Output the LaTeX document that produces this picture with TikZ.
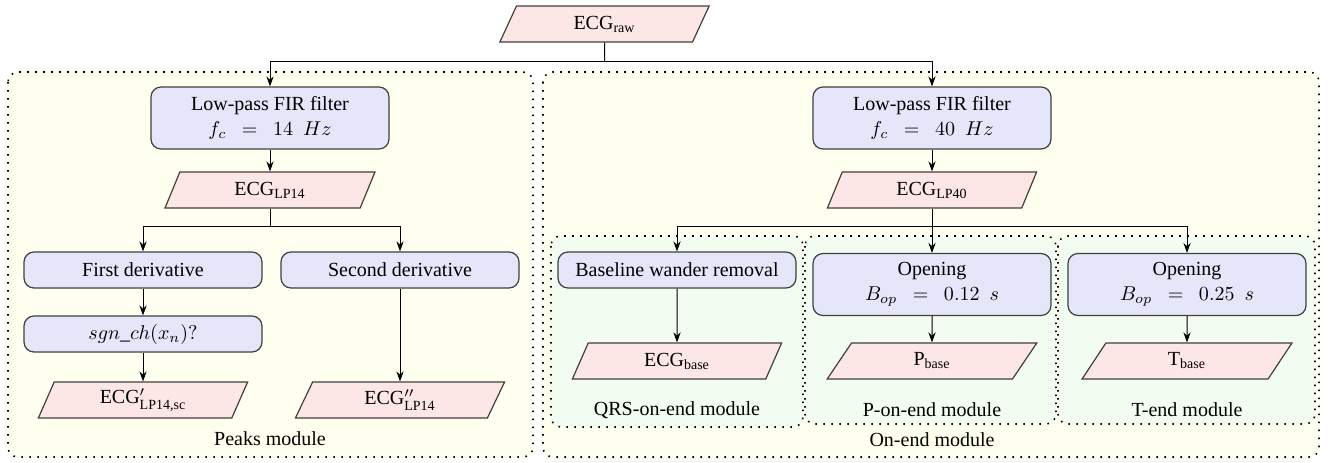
\documentclass[tikz,border=0pt]{standalone}
\usepackage{amsmath}
\usepackage[no-math]{fontspec}
\setmainfont{Liberation Serif}
\newfontfamily\diagfont{Liberation Serif}
\usetikzlibrary{shapes.geometric,arrows.meta,backgrounds}
\definecolor{boxfill}{HTML}{E6E6FA}
\definecolor{parafill}{HTML}{FDE6E6}
\definecolor{modfill}{HTML}{FFFFF0}
\definecolor{subfill}{HTML}{F3FCF1}
\definecolor{edge}{HTML}{404040}
\tikzset{
  procbox/.style={rectangle, rounded corners=5pt, draw=edge, fill=boxfill, line width=0.6pt,
    minimum width=119pt, minimum height=18pt, align=center, inner sep=2pt},
  procbox2/.style={procbox, minimum height=31pt},
  databox/.style={trapezium, trapezium left angle=73, trapezium right angle=107,
    trapezium stretches=true, draw=edge, fill=parafill, line width=0.6pt,
    minimum width=105pt, minimum height=18pt, inner sep=1pt},
  modbox/.style={draw=black, fill=modfill, rounded corners=5pt, line width=0.8pt,
    dash pattern=on 0.8pt off 3.2pt},
  subbox/.style={draw=black, fill=subfill, rounded corners=5pt, line width=0.8pt,
    dash pattern=on 0.8pt off 3.2pt},
  conn/.style={draw=black, line width=0.5pt},
  arr/.style={conn, -{Stealth[length=5pt,width=3.6pt]}},
  lbl/.style={inner sep=0pt}
}
\begin{document}
\begin{tikzpicture}[x=0.5pt,y=-0.5pt,font=\diagfont\fontsize{10}{12.5}\selectfont]
\useasboundingbox (0,0) rectangle (1330,462);
% module frames
\path[modbox] (8,72) rectangle (533,457);
\path[modbox] (543,72) rectangle (1319,457);
\path[subbox] (551,236) rectangle (803,427);
\path[subbox] (805,236) rectangle (1056,424);
\path[subbox] (1058,236) rectangle (1315,424);
\node[lbl] (lpeaks) at (270,439) {Peaks module};
\node[lbl] (lonend) at (932,440) {On-end module};
\node[lbl] (lqrs) at (677,410) {QRS-on-end module};
\node[lbl] (lp) at (932,410) {P-on-end module};
\node[lbl] (lt) at (1187,410) {T-end module};
% nodes
\node[databox] (raw) at (604.5,24) {ECG\textsubscript{raw}};
\node[procbox2] (f14) at (270,118) {Low-pass FIR filter\\$f_c\ \ =\ \ 14\ \ Hz$};
\node[databox] (lp14) at (270,190) {ECG\textsubscript{LP14}};
\node[procbox] (d1) at (143,270) {First derivative};
\node[procbox] (d2) at (400,270) {Second derivative};
\node[procbox] (sgn) at (143,334) {$sgn\_ch(x_n)?$};
\node[databox] (e1) at (143,400) {ECG$'_{\text{LP14,sc}}$};
\node[databox] (e2) at (400,400) {ECG$''_{\text{LP14}}$};
\node[procbox2] (f40) at (932,118) {Low-pass FIR filter\\$f_c\ \ =\ \ 40\ \ Hz$};
\node[databox] (lp40) at (932,190) {ECG\textsubscript{LP40}};
\node[procbox] (bwr) at (677,270) {Baseline wander removal};
\node[procbox2] (op1) at (932,284.5) {Opening\\$B_{op}\ \ =\ \ 0.12\ \ s$};
\node[procbox2] (op2) at (1187,284.5) {Opening\\$B_{op}\ \ =\ \ 0.25\ \ s$};
\node[databox] (eb) at (677,361) {ECG\textsubscript{base}};
\node[databox] (pb) at (932,361) {P\textsubscript{base}};
\node[databox] (tb) at (1187,361) {T\textsubscript{base}};
% junctions
\coordinate (j0) at (604.5,61);
\coordinate (j1) at (270,226);
\coordinate (j2) at (932,226);
% connectors
\draw[conn] (raw) -- (j0);
\draw[arr] (j0) -| (f14);
\draw[arr] (j0) -| (f40);
\draw[arr] (f14) -- (lp14);
\draw[conn] (lp14) -- (j1);
\draw[arr] (j1) -| (d1);
\draw[arr] (j1) -| (d2);
\draw[arr] (d1) -- (sgn);
\draw[arr] (sgn) -- (e1);
\draw[arr] (d2) -- (e2);
\draw[arr] (f40) -- (lp40);
\draw[conn] (lp40) -- (j2);
\draw[arr] (j2) -| (bwr);
\draw[arr] (j2) -- (op1);
\draw[arr] (j2) -| (op2);
\draw[arr] (bwr) -- (eb);
\draw[arr] (op1) -- (pb);
\draw[arr] (op2) -- (tb);
\end{tikzpicture}
\end{document}
